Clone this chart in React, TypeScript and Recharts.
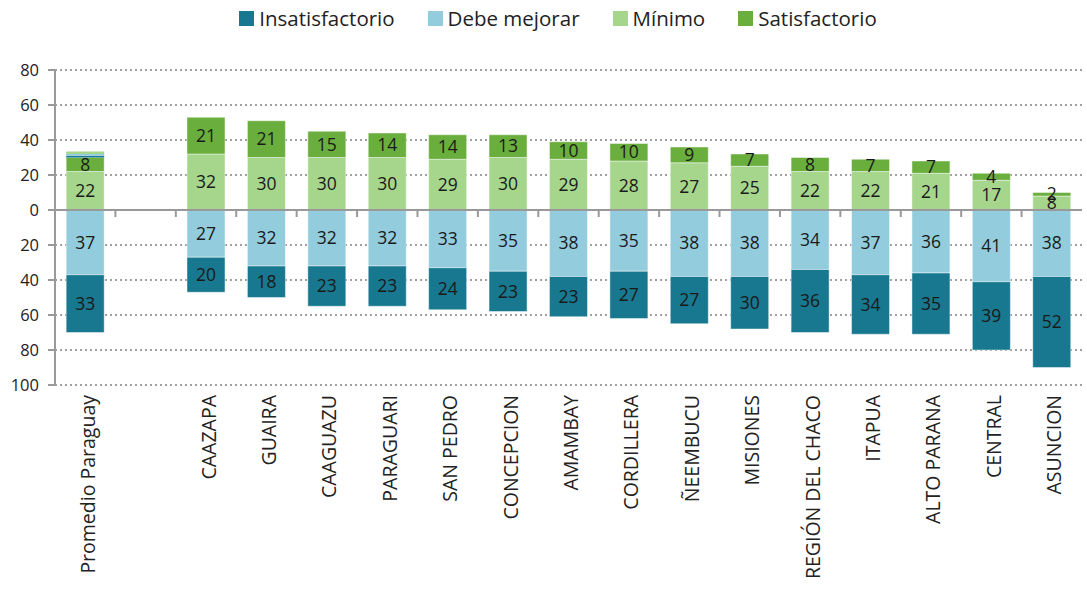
import React from "react";
import { BarChart, Bar, XAxis, YAxis, CartesianGrid, LabelList, ReferenceLine } from "recharts";

const categories = ["Promedio Paraguay", "", "CAAZAPA", "GUAIRA", "CAAGUAZU", "PARAGUARI", "SAN PEDRO", "CONCEPCION", "AMAMBAY", "CORDILLERA", "ÑEEMBUCU", "MISIONES", "REGIÓN DEL CHACO", "ITAPUA", "ALTO PARANA", "CENTRAL", "ASUNCION"];
const insatisfactorio = [33, null, 20, 18, 23, 23, 24, 23, 23, 27, 27, 30, 36, 34, 35, 39, 52];
const debeMejorar = [37, null, 27, 32, 32, 32, 33, 35, 38, 35, 38, 38, 34, 37, 36, 41, 38];
const minimo = [22, null, 32, 30, 30, 30, 29, 30, 29, 28, 27, 25, 22, 22, 21, 17, 8];
const satisfactorio = [8, null, 21, 21, 15, 14, 14, 13, 10, 10, 9, 7, 8, 7, 7, 4, 2];
// thin extra bands visible on top of the "Promedio Paraguay" bar
const extraA = [1, null, null, null, null, null, null, null, null, null, null, null, null, null, null, null, null];
const extraB = [1, null, null, null, null, null, null, null, null, null, null, null, null, null, null, null, null];
const extraC = [1.5, null, null, null, null, null, null, null, null, null, null, null, null, null, null, null, null];
const yTicks = [-100, -80, -60, -40, -20, 0, 20, 40, 60, 80];

const legendNames = ["Insatisfactorio", "Debe mejorar", "Mínimo", "Satisfactorio"];
const COLORS = { ins: "#17788f", debe: "#93cddd", min: "#a6d68c", sat: "#6aae3e" };
const legendColors = [COLORS.ins, COLORS.debe, COLORS.min, COLORS.sat];

const data = categories.map((c, i) => ({
  name: c,
  debe: debeMejorar[i] == null ? null : -(debeMejorar[i] as number),
  ins: insatisfactorio[i] == null ? null : -(insatisfactorio[i] as number),
  min: minimo[i],
  sat: satisfactorio[i],
  xa: extraA[i],
  xb: extraB[i],
  xc: extraC[i],
}));

const FONT = "'Open Sans', sans-serif";

const fmt = (v: any) => (v == null ? "" : String(Math.abs(v)));

const XTick = (props: any) => {
  const { x, y, payload } = props;
  return (
    <text
      x={0}
      y={0}
      transform={`translate(${x + 2},${y + 2}) rotate(-90)`}
      textAnchor="end"
      dominantBaseline="central"
      fontSize={19.5}
      fontFamily={FONT}
      fill="#222"
    >
      {payload.value}
    </text>
  );
};

const ZeroTicks = (props: any) => {
  const vb = props.viewBox || {};
  const n = categories.length;
  const w = vb.width || 0;
  const items = [];
  for (let i = 1; i < n; i++) {
    const xx = vb.x + (w * i) / n;
    items.push(<line key={i} x1={xx} x2={xx} y1={vb.y} y2={vb.y + 7} stroke="#999" strokeWidth={2} />);
  }
  return <g>{items}</g>;
};

const LegendBox = () => (
  <div
    style={{
      position: "absolute",
      top: 5,
      left: 0,
      width: 1116,
      display: "flex",
      justifyContent: "center",
      alignItems: "center",
      fontFamily: FONT,
      fontSize: 20.5,
      color: "#222",
      lineHeight: "26px",
    }}
  >
    {legendNames.map((n, i) => (
      <div key={n} style={{ display: "flex", alignItems: "center", marginRight: i < legendNames.length - 1 ? 33 : 0 }}>
        <span style={{ display: "inline-block", width: 15, height: 15, background: legendColors[i], marginRight: 5 }} />
        <span>{n}</span>
      </div>
    ))}
  </div>
);

const labelStyle = { fontSize: 17.5, fontFamily: FONT, fill: "#1a1a1a" };
const barStroke = "rgba(255,255,255,0.45)";

export default function App() {
  return (
    <div style={{ position: "absolute", left: 0, top: 0, width: 1087, height: 594, background: "#fff", overflow: "hidden" }}>
      <LegendBox />
      <div style={{ position: "absolute", left: 0, top: 0 }}>
        <BarChart
          width={1087}
          height={594}
          data={data}
          stackOffset="sign"
          barCategoryGap="18.5%"
          margin={{ top: 70, right: 5, bottom: 9, left: 0 }}
        >
          <CartesianGrid vertical={false} stroke="#a0a0a0" strokeDasharray="2 3" strokeWidth={2} />
          <XAxis dataKey="name" interval={0} tick={<XTick />} tickLine={false} axisLine={false} height={200} />
          <YAxis
            domain={[-100, 80]}
            ticks={yTicks}
            tickFormatter={(v: number) => String(Math.abs(v))}
            interval={0}
            width={55}
            tickSize={7}
            tickMargin={9}
            stroke="#999"
            axisLine={{ stroke: "#999", strokeWidth: 2 }}
            tickLine={{ stroke: "#999", strokeWidth: 2 }}
            tick={{ fontSize: 16.5, fontFamily: FONT, fill: "#222" }}
          />
          <Bar dataKey="debe" stackId="a" fill={COLORS.debe} stroke={barStroke} isAnimationActive={false}>
            <LabelList dataKey="debe" position="center" formatter={fmt} style={labelStyle} />
          </Bar>
          <Bar dataKey="ins" stackId="a" fill={COLORS.ins} stroke={barStroke} isAnimationActive={false}>
            <LabelList dataKey="ins" position="center" formatter={fmt} style={labelStyle} />
          </Bar>
          <Bar dataKey="min" stackId="a" fill={COLORS.min} stroke={barStroke} isAnimationActive={false}>
            <LabelList dataKey="min" position="center" formatter={fmt} style={labelStyle} />
          </Bar>
          <Bar dataKey="sat" stackId="a" fill={COLORS.sat} stroke={barStroke} isAnimationActive={false}>
            <LabelList dataKey="sat" position="center" formatter={fmt} style={labelStyle} />
          </Bar>
          <Bar dataKey="xa" stackId="a" fill={COLORS.ins} isAnimationActive={false} legendType="none" />
          <Bar dataKey="xb" stackId="a" fill={COLORS.debe} isAnimationActive={false} legendType="none" />
          <Bar dataKey="xc" stackId="a" fill={COLORS.min} isAnimationActive={false} legendType="none" />
          <ReferenceLine y={0} stroke="#999" strokeWidth={2} label={<ZeroTicks />} />
        </BarChart>
      </div>
    </div>
  );
}
